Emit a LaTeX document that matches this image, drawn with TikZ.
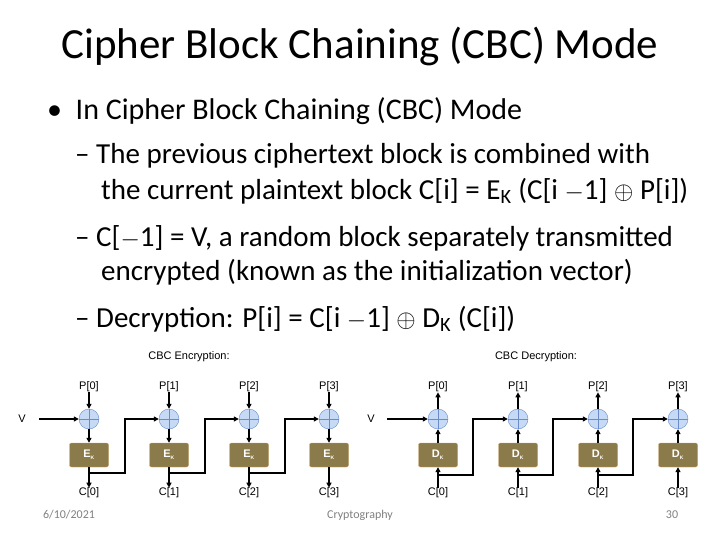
\documentclass[tikz,border=0pt]{standalone}
\usepackage{fontspec}
\setmainfont{Carlito}
\newfontfamily\arial{Liberation Sans}
\usetikzlibrary{arrows.meta}
\definecolor{boxc}{HTML}{8B7B4A}
\definecolor{boxb}{HTML}{C8A060}
\definecolor{xorf}{HTML}{C6DAF5}
\definecolor{xorb}{HTML}{6A8CC8}
\begin{document}
\begin{tikzpicture}[x=1pt,y=-1pt,
 lab/.style={font=\arial\fontsize{11}{12}\selectfont,inner sep=0},
 blk/.style={draw=boxb,fill=boxc,rounded corners=2pt,minimum width=39pt,minimum height=24pt,inner sep=0,font=\arial\bfseries\fontsize{11}{12}\selectfont,text=white},
 xorn/.style={circle,draw=xorb,fill=xorf,minimum size=20pt,inner sep=0,path picture={\draw[xorb] (path picture bounding box.north)--(path picture bounding box.south) (path picture bounding box.west)--(path picture bounding box.east);}},
 ar/.style={line width=1.6pt,-{Triangle[length=5pt,width=5pt]}},
 foot/.style={font=\fontsize{12}{13}\selectfont,text=gray},
 big/.style={font=\fontsize{29}{31}\selectfont,inner sep=0}]
\useasboundingbox (0,0) rectangle (720,540);
\node (title) at (360,46) {\fontsize{43}{45}\selectfont Cipher Block Chaining (CBC) Mode};
\node[anchor=west,inner sep=0] (b1) at (47,111) {\fontsize{30}{32}\selectfont • \ In Cipher Block Chaining (CBC) Mode};
\node[big,anchor=west] (s1) at (75,156) {– The previous ciphertext block is combined with};
\node[big,anchor=west] (s1b) at (101,191) {the current plaintext block C[i] = E\textsubscript{K} (C[i $-$1] $\oplus$ P[i])};
\node[big,anchor=west] (s2) at (75,238) {– C[$-$1] = V, a random block separately transmitted};
\node[big,anchor=west] (s2b) at (101,272) {encrypted (known as the initialization vector)};
\node[big,anchor=west] (s3) at (75,319) {– Decryption: P[i] = C[i $-$1] $\oplus$ D\textsubscript{K} (C[i])};
\node[lab] (encT) at (189,357) {CBC Encryption:};
\node[lab] (decT) at (536,357) {CBC Decryption:};
\node[lab] (ve) at (22,419) {V};
\node[lab] (vd) at (371,419) {V};
\foreach \i/\x in {0/89,1/169,2/249,3/329}{
 \node[lab] (ep\i) at (\x,387) {P[\i]};
 \node[xorn] (ex\i) at (\x,419) {};
 \node[blk] (eb\i) at (\x,455) {E\textsubscript{\tiny K}};
 \node[lab] (ec\i) at (\x,493) {C[\i]};
 \draw[ar] (ep\i) -- (ex\i);
 \draw[ar] (ex\i) -- (eb\i);
 \draw[ar] (eb\i) -- (ec\i);
 \coordinate (ej\i) at (\x,473);
}
\foreach \i/\x in {0/438,1/518,2/598,3/678}{
 \node[lab] (dp\i) at (\x,387) {P[\i]};
 \node[xorn] (dx\i) at (\x,419) {};
 \node[blk] (db\i) at (\x,455) {D\textsubscript{\tiny K}};
 \node[lab] (dc\i) at (\x,493) {C[\i]};
 \draw[ar] (dx\i) -- (dp\i);
 \draw[ar] (db\i) -- (dx\i);
 \draw[ar] (dc\i) -- (db\i);
 \coordinate (dj\i) at (\x,475);
}
\coordinate (ve0) at (39,419);
\draw[ar] (ve0) -- (ex0);
\coordinate (vd0) at (387,419);
\draw[ar] (vd0) -- (dx0);
\foreach \a/\b/\m in {0/1/125,1/2/205,2/3/285}{
 \draw[ar] (ej\a) -| (\m,419) -- (ex\b);
}
\foreach \a/\b/\m in {0/1/473,1/2/553,2/3/633}{
 \draw[ar] (dj\a) -| (\m,419) -- (dx\b);
}
\node[foot] (date) at (69,515) {6/10/2021};
\node[foot] (crypt) at (360,515) {Cryptography};
\node[foot] (pg) at (672,515) {30};
\end{tikzpicture}
\end{document}
